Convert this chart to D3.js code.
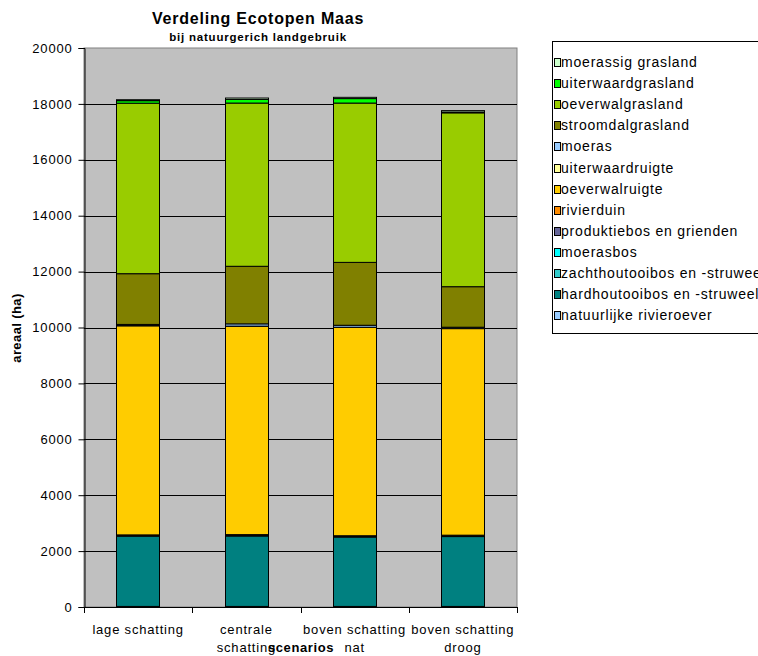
<!DOCTYPE html>
<html>
<head>
<meta charset="utf-8">
<script src="https://cdn.jsdelivr.net/npm/d3@7"></script>
<style>
  html, body { margin: 0; padding: 0; background: #fff; overflow: hidden; }
  svg { display: block; font-family: "Liberation Sans", Arial, sans-serif; }
</style>
</head>
<body>
<svg id="chart" width="758" height="656"></svg>
<script>
// Scenario categories (two-line axis labels)
const categories = ["lage schatting", "centrale schatting", "boven schatting nat", "boven schatting droog"];
const categoryLines = [["lage schatting"], ["centrale", "schatting"], ["boven schatting", "nat"], ["boven schatting", "droog"]];

// Ecotope series, stacked bottom to top
const seriesNames = [
  "natuurlijke rivieroever", "hardhoutooibos en -struweel", "zachthoutooibos en -struweel",
  "moerasbos", "produktiebos en grienden", "rivierduin", "oeverwalruigte",
  "uiterwaardruigte", "moeras", "stroomdalgrasland", "oeverwalgrasland",
  "uiterwaardgrasland", "moerassig grasland"
];
const seriesColors = [
  "#99CCFF", "#008080", "#33CCCC", "#00FFFF", "#666699", "#FF8C00", "#FFCC00",
  "#FFFF99", "#99CCFF", "#808000", "#99CC00", "#00FF00", "#CCFFCC"
];

// Areal (ha) per scenario for each ecotope
const natuurlijkeRivieroever = [20, 20, 20, 20];
const hardhoutooibos = [2510, 2520, 2480, 2500];
const zachthoutooibos = [30, 30, 30, 30];
const moerasbos = [0, 0, 0, 0];
const produktiebos = [10, 10, 10, 10];
const rivierduin = [10, 10, 10, 10];
const oeverwalruigte = [7480, 7450, 7450, 7390];
const uiterwaardruigte = [10, 10, 10, 10];
const moeras = [40, 80, 70, 40];
const stroomdalgrasland = [1815, 2060, 2250, 1450];
const oeverwalgrasland = [6100, 5840, 5700, 6220];
const uiterwaardgrasland = [90, 130, 160, 30];
const moerassigGrasland = [35, 50, 45, 50];

const seriesValues = [
  natuurlijkeRivieroever, hardhoutooibos, zachthoutooibos, moerasbos, produktiebos,
  rivierduin, oeverwalruigte, uiterwaardruigte, moeras, stroomdalgrasland,
  oeverwalgrasland, uiterwaardgrasland, moerassigGrasland
];

const yTicks = [0, 2000, 4000, 6000, 8000, 10000, 12000, 14000, 16000, 18000, 20000];

const rows = categories.map((c, i) => {
  const r = { cat: c };
  seriesNames.forEach((s, j) => { r[s] = seriesValues[j][i]; });
  return r;
});
const stacked = d3.stack().keys(seriesNames)(rows);

const svg = d3.select("#chart");
const plot = { left: 84, right: 517, top: 48, bottom: 607 };

const x = d3.scaleBand().domain(categories).range([plot.left, plot.right]).paddingInner(0.6).paddingOuter(0.3);
const xOuter = d3.scaleBand().domain(categories).range([plot.left, plot.right]);
const y = d3.scaleLinear().domain([0, 20000]).range([plot.bottom, plot.top]);

// plot area background
svg.append("rect")
  .attr("x", plot.left).attr("y", plot.top)
  .attr("width", plot.right - plot.left).attr("height", plot.bottom - plot.top)
  .attr("fill", "#C0C0C0").attr("stroke", "#808080").attr("stroke-width", 1);

// horizontal gridlines
svg.append("g").selectAll("line")
  .data(yTicks.filter(t => t > 0 && t < 20000))
  .join("line")
  .attr("x1", plot.left).attr("x2", plot.right)
  .attr("y1", d => Math.round(y(d)) + 0.5).attr("y2", d => Math.round(y(d)) + 0.5)
  .attr("stroke", "#000").attr("stroke-width", 1);

// stacked bars
const layers = svg.append("g").selectAll("g")
  .data(stacked)
  .join("g")
  .attr("fill", (d, i) => seriesColors[i]);

layers.selectAll("rect")
  .data(d => d.map(p => Object.assign(p, { cat: p.data.cat })))
  .join("rect")
  .attr("x", d => Math.round(x(d.cat)) + 0.5)
  .attr("width", Math.round(x.bandwidth()))
  .attr("y", d => y(d[1]))
  .attr("height", d => Math.max(0, y(d[0]) - y(d[1])))
  .attr("stroke", "#000")
  .attr("stroke-width", 1);

// y axis
const yAxis = d3.axisLeft(y).tickValues(yTicks).tickSize(6).tickPadding(6).tickFormat(d3.format("d"));
const gy = svg.append("g").attr("transform", `translate(${plot.left + 0.5},0)`).call(yAxis);
gy.select(".domain").attr("stroke", "#000");
gy.selectAll(".tick line").attr("stroke", "#000");
gy.selectAll("text").attr("font-size", 13).attr("letter-spacing", 0.8).attr("fill", "#000")
  .attr("font-family", "Liberation Sans, Arial, sans-serif");

// x axis baseline and category separators
svg.append("line")
  .attr("x1", plot.left).attr("x2", plot.right)
  .attr("y1", plot.bottom + 0.5).attr("y2", plot.bottom + 0.5)
  .attr("stroke", "#000");
const bounds = categories.map(c => xOuter(c)).concat([plot.right]);
svg.append("g").selectAll("line")
  .data(bounds)
  .join("line")
  .attr("x1", d => Math.round(d) + 0.5).attr("x2", d => Math.round(d) + 0.5)
  .attr("y1", plot.bottom).attr("y2", plot.bottom + 6)
  .attr("stroke", "#000");

// category labels
const xl = svg.append("g").attr("font-size", 13).attr("letter-spacing", 0.8)
  .attr("fill", "#000").attr("text-anchor", "middle");
categoryLines.forEach((lines, i) => {
  const cx = xOuter(categories[i]) + xOuter.bandwidth() / 2;
  lines.forEach((t, k) => {
    xl.append("text").attr("x", cx).attr("y", 634 + k * 18).text(t);
  });
});

// axis titles
svg.append("text")
  .attr("x", 301).attr("y", 652)
  .attr("text-anchor", "middle").attr("font-size", 13).attr("letter-spacing", 0.6)
  .attr("font-weight", "bold")
  .text("scenarios");
svg.append("text")
  .attr("transform", "translate(21,328) rotate(-90)")
  .attr("text-anchor", "middle").attr("font-size", 13).attr("letter-spacing", 0.4)
  .attr("font-weight", "bold")
  .text("areaal (ha)");

// chart title
svg.append("text")
  .attr("x", 258).attr("y", 24)
  .attr("text-anchor", "middle").attr("font-size", 16).attr("letter-spacing", 0.8)
  .attr("font-weight", "bold")
  .text("Verdeling Ecotopen Maas");
svg.append("text")
  .attr("x", 258).attr("y", 41)
  .attr("text-anchor", "middle").attr("font-size", 11.5).attr("letter-spacing", 0.8)
  .attr("font-weight", "bold")
  .text("bij natuurgerich landgebruik");

// legend (top entry = last stacked series)
const legend = svg.append("g");
legend.append("rect")
  .attr("x", 552.5).attr("y", 41.5).attr("width", 260).attr("height", 292)
  .attr("fill", "#fff").attr("stroke", "#000");
const legendOrder = seriesNames.map((s, i) => i).reverse();
legendOrder.forEach((si, k) => {
  const cy = 62 + k * 21.1;
  legend.append("rect")
    .attr("x", 554.5).attr("y", Math.round(cy - 4) + 0.5).attr("width", 6).attr("height", 8)
    .attr("fill", seriesColors[si]).attr("stroke", "#000");
  legend.append("text")
    .attr("x", 561).attr("y", cy + 5)
    .attr("font-size", 14).attr("letter-spacing", 0.8).attr("fill", "#000")
    .text(seriesNames[si]);
});
</script>
</body>
</html>
